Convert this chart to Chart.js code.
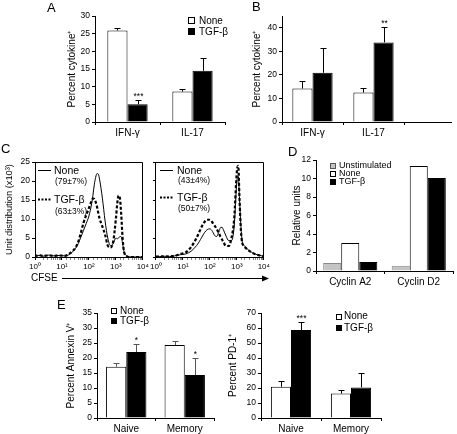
<!DOCTYPE html>
<html>
<head>
<meta charset="utf-8">
<script src="https://cdn.jsdelivr.net/npm/chart.js@4.4.1/dist/chart.umd.min.js"></script>
<style>
  html, body { margin: 0; padding: 0; background: #fff; }
  #fig { position: relative; width: 457px; height: 434px; overflow: hidden; font-family: "Liberation Sans", Arial, sans-serif; color: #000; }
  #fig canvas { position: absolute; }
  .t { position: absolute; white-space: nowrap; line-height: 1; }
  .box { position: absolute; box-sizing: border-box; border: 1px solid #000; }
  svg { position: absolute; left: 0; top: 0; }
</style>
</head>
<body>
<div id="fig">
  <canvas id="chartA"></canvas>
  <canvas id="chartB"></canvas>
  <canvas id="chartC1"></canvas>
  <canvas id="chartC2"></canvas>
  <canvas id="chartD"></canvas>
  <canvas id="chartE1"></canvas>
  <canvas id="chartE2"></canvas>
  <svg width="457" height="434">
    <line x1="38" y1="170.5" x2="51" y2="170.5" stroke="#000" stroke-width="1"/>
    <line x1="38" y1="199.5" x2="51" y2="199.5" stroke="#000" stroke-width="2" stroke-dasharray="2,1.5"/>
    <line x1="160" y1="170.5" x2="173" y2="170.5" stroke="#000" stroke-width="1"/>
    <line x1="160" y1="197.5" x2="173" y2="197.5" stroke="#000" stroke-width="2" stroke-dasharray="2,1.5"/>
    <line x1="62" y1="278.5" x2="264" y2="278.5" stroke="#000" stroke-width="1"/>
    <polygon points="262,275.5 269,278.5 262,281.5" fill="#000"/>
  </svg>
</div>
<script>
// panel A / B: cytokine
const cytoCats = ['IFN-γ', 'IL-17'];
const aNone = [25.9, 8.6];
const aNoneErr = [0.7, 0.7];
const aTgf = [5.0, 14.5];
const aTgfErr = [1.1, 3.5];
const aSig = ['***', ''];
const bNone = [14.2, 12.5];
const bNoneErr = [3.4, 2.1];
const bTgf = [20.9, 33.8];
const bTgfErr = [10.6, 6.7];
const bSig = ['', '**'];

// panel C: CFSE histograms
const cfse = [1, 1.1, 1.4, 2, 3.2, 5, 8, 12.6, 20, 32, 40, 50, 63, 79, 100, 126, 141, 158, 178, 200,
  224, 251, 282, 316, 398, 501, 631, 794, 1000, 1122, 1259, 1413, 1585, 1778, 1995, 2512, 3162, 3981, 6310, 10000];
const c1None = [1.8, 0.3, 0.4, 0.2, 0.5, 0.3, 0.4, 0.3, 0.8, 2.3, 3.5, 5.2, 7, 8.8, 10.8, 14, 16.3, 19, 21, 22,
  21.8, 20.3, 18, 15.5, 9.5, 5, 3, 3.5, 5, 4.8, 5, 5.4, 5.3, 3.5, 1.5, 0.3, 0.1, 0, 0, 0];
const c1Tgf = [0.5, 0.3, 0.5, 0.3, 0.4, 0.3, 0.4, 0.3, 1.0, 2.5, 4, 6.3, 9, 11, 12.9, 14.8, 15.4, 15.3, 14.5, 13.2,
  11.5, 10, 9, 8, 5.9, 3, 2.5, 4, 10, 14, 16.2, 15.5, 11, 5, 1.5, 0.2, 0, 0, 0, 0];
const c2None = [0.2, 0.1, 0.1, 0.2, 0.1, 0.3, 0.6, 0.8, 1.5, 3.0, 4.0, 5.2, 6.4, 7.2, 7.4, 6.7, 6.0, 5.5, 5.4, 6.0,
  7.0, 7.8, 7.8, 7.2, 5.5, 4.3, 4.3, 8, 20, 21.3, 15, 8, 4, 3.2, 2.8, 2, 1.5, 1.0, 0.5, 0.2];
const c2Tgf = [0.2, 0.1, 0.2, 0.1, 0.2, 0.3, 0.8, 1.2, 2.6, 5.0, 6.5, 8, 9.2, 9.8, 9.8, 9, 8.5, 8.0, 7.4, 6.7,
  6.0, 5.2, 4.6, 4.0, 2.9, 2.9, 5, 10, 22.5, 24, 15, 7, 3.7, 3, 2.6, 1.9, 1.4, 1.0, 0.5, 0.2];
const cfseTicks = [1, 10, 100, 1000, 10000];
const cfseTickLabels = ['10⁰', '10¹', '10²', '10³', '10⁴'];

// panel D: cyclins
const cyclinCats = ['Cyclin A2', 'Cyclin D2'];
const dUnstim = [0.87, 0.58];
const dNone = [3.04, 11.35];
const dTgf = [0.98, 10.05];

// panel E: annexin V / PD-1
const cellCats = ['Naive', 'Memory'];
const annNone = [17.1, 24.3];
const annNoneErr = [1.2, 1.4];
const annTgf = [22.0, 14.3];
const annTgfErr = [2.7, 5.7];
const annSig = ['*', '*'];
const pdNone = [20.8, 16.3];
const pdNoneErr = [4.0, 2.3];
const pdTgf = [58.6, 20.4];
const pdTgfErr = [5.2, 9.4];
const pdSig = ['***', ''];

Chart.defaults.font.family = '"Liberation Sans", Arial, sans-serif';
Chart.defaults.font.size = 8.5;
Chart.defaults.color = '#000';

const fig = document.getElementById('fig');
function txt(s, x, cy, fs) {
  const d = document.createElement('div');
  d.className = 't';
  d.textContent = s;
  d.style.left = x + 'px';
  d.style.top = (cy - 0.49 * fs) + 'px';
  d.style.fontSize = fs + 'px';
  fig.appendChild(d);
}
function box(x, y, fill, size = 7, border = '#000') {
  const d = document.createElement('div');
  d.className = 'box';
  d.style.cssText = `left:${x}px;top:${y}px;width:${size}px;height:${size}px;background:${fill};border-color:${border}`;
  fig.appendChild(d);
}

// canvas rect c, chart area a (page coords)
function place(id, c, a) {
  const el = document.getElementById(id);
  el.width = c.w; el.height = c.h;
  el.style.left = c.x + 'px'; el.style.top = c.y + 'px';
  return {
    el,
    padding: { left: 0, top: a.t - c.y, right: c.x + c.w - a.r, bottom: 0 },
    yw: a.l - c.x,
    xh: c.y + c.h - a.b
  };
}

const errBars = {
  id: 'errBars',
  afterDatasetsDraw(chart, args, o) {
    const ctx = chart.ctx, y = chart.scales.y;
    chart.data.datasets.forEach((ds, i) => {
      if (!ds.err) return;
      chart.getDatasetMeta(i).data.forEach((bar, j) => {
        const top = Math.round(y.getPixelForValue(ds.data[j] + ds.err[j])) + 0.5;
        const x = Math.round(bar.x) + 0.5;
        ctx.save();
        ctx.strokeStyle = o.color || '#000';
        ctx.lineWidth = 1;
        ctx.beginPath();
        ctx.moveTo(x, bar.y); ctx.lineTo(x, top);
        ctx.moveTo(x - 3, top); ctx.lineTo(x + 3, top);
        ctx.stroke();
        if (ds.sig && ds.sig[j]) {
          ctx.fillStyle = '#000';
          ctx.font = '8.5px "Liberation Sans", Arial, sans-serif';
          ctx.textAlign = 'center';
          ctx.fillText(ds.sig[j], x, top - 2);
        }
        ctx.restore();
      });
    });
  }
};

const extras = {
  id: 'extras',
  afterDraw(chart, args, o) {
    const ctx = chart.ctx, ca = chart.chartArea;
    ctx.save();
    ctx.strokeStyle = '#000';
    ctx.lineWidth = 1;
    ctx.beginPath();
    if (o.frame) {
      const t = Math.round(ca.top) + 0.5, r = Math.round(ca.right) - 0.5;
      ctx.moveTo(ca.left, t); ctx.lineTo(r, t); ctx.lineTo(r, ca.bottom);
    }
    if (o.ext) {
      const b = Math.round(ca.bottom) + 0.5;
      ctx.moveTo(ca.right, b); ctx.lineTo(ca.right + o.ext, b);
    }
    ctx.stroke();
    ctx.restore();
  }
};

const axisGrid = { drawOnChartArea: false, tickLength: 3, color: '#000' };

function bars(label, data, fill, err, sig, border = '#000') {
  return { label, data, err, sig, backgroundColor: fill, borderColor: border, borderWidth: 1 };
}

function barChart(id, c, a, cats, sets, yMax, step, title, o = {}) {
  const p = place(id, c, a);
  return new Chart(p.el, {
    type: 'bar',
    data: { labels: cats, datasets: sets },
    options: {
      responsive: false,
      animation: false,
      layout: { padding: p.padding },
      datasets: { bar: { categoryPercentage: o.cat, barPercentage: 1 } },
      plugins: {
        legend: { display: false },
        tooltip: { enabled: false },
        errBars: { color: o.errColor },
        extras: { ext: o.ext }
      },
      scales: {
        x: {
          grid: axisGrid,
          border: { color: '#000' },
          ticks: { padding: 2, font: { size: 10 } },
          afterFit: s => { s.height = p.xh; }
        },
        y: {
          min: 0, max: yMax,
          ticks: { stepSize: step, padding: 2 },
          grid: axisGrid,
          border: { color: '#000' },
          title: { display: true, text: title, padding: 0, font: { size: 10 } },
          afterFit: s => { s.width = p.yw; }
        }
      }
    },
    plugins: [errBars, extras]
  });
}

const isDecade = v => Math.abs(Math.log10(v) - Math.round(Math.log10(v))) < 1e-6;

function cfseChart(id, c, a, none, tgf, showY) {
  const p = place(id, c, a);
  return new Chart(p.el, {
    type: 'line',
    data: {
      datasets: [
        { data: cfse.map((x, i) => ({ x, y: none[i] })), borderColor: '#000', borderWidth: 1, pointRadius: 0, cubicInterpolationMode: 'monotone' },
        { data: cfse.map((x, i) => ({ x, y: tgf[i] })), borderColor: '#000', borderWidth: 2.2, borderDash: [3, 2], pointRadius: 0, cubicInterpolationMode: 'monotone' }
      ]
    },
    options: {
      responsive: false,
      animation: false,
      layout: { padding: p.padding },
      plugins: { legend: { display: false }, tooltip: { enabled: false }, extras: { frame: true } },
      scales: {
        x: {
          type: 'logarithmic', min: 1, max: 10000,
          grid: { drawOnChartArea: false, tickLength: 3, tickColor: ctx => isDecade(ctx.tick.value) ? '#000' : '#888' },
          border: { color: '#000' },
          ticks: {
            autoSkip: false, maxRotation: 0, padding: 2, font: { size: 8 },
            callback: v => isDecade(v) ? cfseTickLabels[cfseTicks.indexOf(Math.round(v))] : ''
          },
          afterFit: s => { s.height = p.xh; }
        },
        y: {
          min: 0, max: 25,
          ticks: { stepSize: 5, padding: 2, display: showY },
          grid: axisGrid,
          border: { color: '#000' },
          title: { display: showY, text: 'Unit distribution (x10³)', padding: 0, font: { size: 9.3 } },
          afterFit: s => { s.width = p.yw; }
        }
      }
    },
    plugins: [extras]
  });
}

// A
barChart('chartA', { x: 66, y: 6, w: 163, h: 134 }, { l: 95, t: 16, r: 225, b: 122 }, cytoCats, [
  bars('None', aNone, '#fff', aNoneErr),
  bars('TGF-β', aTgf, '#000', aTgfErr, aSig)
], 30, 5, 'Percent cytokine⁺', { cat: 0.62 });

// B
barChart('chartB', { x: 251, y: 6, w: 204, h: 134 }, { l: 282, t: 16, r: 404, b: 122 }, cytoCats, [
  bars('None', bNone, '#fff', bNoneErr),
  bars('TGF-β', bTgf, '#000', bTgfErr, bSig)
], 45, 5, 'Percent cytokine⁺', { cat: 0.66, ext: 48 });

// C
cfseChart('chartC1', { x: 4, y: 155, w: 147, h: 118 }, { l: 35, t: 162, r: 145, b: 257 }, c1None, c1Tgf, true);
cfseChart('chartC2', { x: 148, y: 155, w: 124, h: 118 }, { l: 155, t: 162, r: 268, b: 257 }, c2None, c2Tgf, false);

// D
barChart('chartD', { x: 291, y: 150, w: 165, h: 138 }, { l: 316, t: 160, r: 453, b: 271 }, cyclinCats, [
  bars('Unstimulated', dUnstim, '#c4c4c4', null, null, '#888'),
  bars('None', dNone, '#fff'),
  bars('TGF-β', dTgf, '#000')
], 12, 2, 'Relative units', { cat: 0.79 });

// E
barChart('chartE1', { x: 65, y: 303, w: 153, h: 131 }, { l: 97, t: 313, r: 214, b: 418 }, cellCats, [
  bars('None', annNone, '#fff', annNoneErr),
  bars('TGF-β', annTgf, '#000', annTgfErr, annSig)
], 35, 5, 'Percent Annexin V⁺', { cat: 0.69, errColor: '#555' });

barChart('chartE2', { x: 227, y: 303, w: 158, h: 131 }, { l: 261, t: 313, r: 381, b: 418 }, cellCats, [
  bars('None', pdNone, '#fff', pdNoneErr),
  bars('TGF-β', pdTgf, '#000', pdTgfErr, pdSig)
], 70, 10, 'Percent PD-1⁺', { cat: 0.67 });

// panel letters
txt('A', 47, 7, 13);
txt('B', 252, 6, 13);
txt('C', 1, 148, 13);
txt('D', 288, 151, 13);
txt('E', 57, 304, 13);

// legends
box(188, 17, '#fff'); txt('None', 199, 20.5, 10);
box(188, 28, '#000'); txt('TGF-β', 199, 31.5, 10);

txt('None', 54, 170, 10.5); txt('(79±7%)', 55, 181.5, 8.5);
txt('TGF-β', 54, 199, 10.5); txt('(63±3%)', 55, 211, 8.5);
txt('None', 177, 170, 10.5); txt('(43±4%)', 178, 180.5, 8.5);
txt('TGF-β', 177, 197, 10.5); txt('(50±7%)', 178, 208, 8.5);
txt('CFSE', 31, 278, 10);

box(330, 162.5, '#c4c4c4', 6, '#555'); txt('Unstimulated', 339, 165.5, 9);
box(330, 170.5, '#fff', 6); txt('None', 339, 173.5, 9);
box(330, 178.5, '#000', 6); txt('TGF-β', 339, 181.5, 9);

box(111, 308, '#fff', 6); txt('None', 120, 310.5, 10);
box(111, 318, '#000', 6); txt('TGF-β', 120, 320.8, 10);

box(336, 313.5, '#fff', 6); txt('None', 344, 316.3, 10);
box(336, 325, '#000', 6); txt('TGF-β', 344, 327.8, 10);
</script>
</body>
</html>
